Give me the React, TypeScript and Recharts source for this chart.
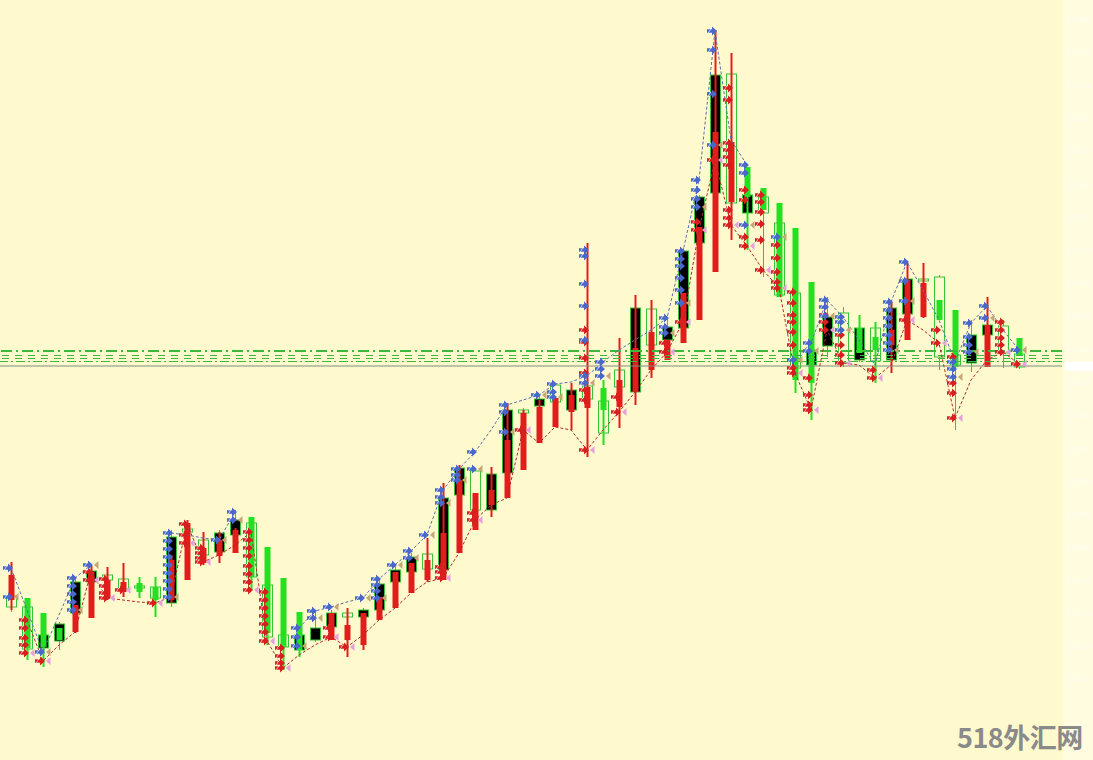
import React from 'react';
import { ComposedChart, Bar, Line, Scatter, XAxis, YAxis, ReferenceLine } from 'recharts';

// main candles (points)
const mainOpen = [
  153, 111, 125, 136, 178, 189, 180, 171, 172, 162,
  223, 228, 205, 227, 240, 183, 123, 113, 125, 132,
  147, 143, 150, 176, 190, 203, 191, 262, 292, 250,
  286, 350, 347, 361, 358, 370, 361, 327, 373, 452,
  415, 433, 509, 563, 685, 557, 565, 547, 465, 392,
  410, 443, 397, 432, 399, 452, 481, 479, 403, 395,
  425, 435, 407, 393,
];
const mainClose = [
  164, 153, 112, 119, 147, 178, 185, 181, 174, 173,
  157, 231, 220, 208, 225, 237, 175, 125, 110, 120,
  133, 147, 143, 150, 178, 188, 206, 190, 265, 289,
  250, 287, 350, 354, 375, 350, 374, 359, 390, 368,
  451, 420, 432, 517, 567, 686, 547, 563, 537, 467,
  395, 414, 447, 400, 432, 400, 446, 481, 483, 405,
  397, 425, 434, 406,
];
const mainHigh = [
  166, 155, 130, 138, 182, 192, 187, 183, 183, 183,
  230, 233, 222, 230, 250, 239, 177, 127, 130, 150,
  150, 149, 152, 180, 194, 207, 208, 272, 295, 291,
  293, 357, 352, 364, 377, 374, 377, 361, 392, 455,
  453, 442, 512, 565, 730, 688, 567, 570, 539, 469,
  415, 463, 453, 445, 438, 458, 497, 482, 485, 407,
  440, 438, 440, 408,
];
const mainLow = [
  148, 108, 108, 110, 145, 176, 178, 169, 163, 143,
  153, 226, 203, 205, 223, 180, 120, 90, 103, 118,
  130, 141, 141, 148, 176, 186, 189, 188, 263, 248,
  243, 285, 345, 352, 356, 348, 359, 325, 371, 366,
  413, 418, 430, 515, 565, 555, 545, 483, 463, 390,
  393, 403, 393, 398, 377, 387, 444, 478, 390, 330,
  388, 423, 392, 391,
];

// overlay bars: r = red, g = green, '' = none
const overColor = [
  'r', 'g', 'g', 'g', 'r', 'r', 'r', 'r', 'g', 'g',
  'r', 'r', 'r', 'r', 'r', 'g', 'g', 'g', 'g', '',
  'r', 'r', 'r', 'r', 'r', 'r', 'r', 'r', 'r', 'r',
  'r', 'r', 'r', 'r', 'r', 'r', 'r', 'g', 'r', 'r',
  'r', 'r', 'r', 'r', 'r', 'r', 'g', 'g', 'g', 'g',
  'g', '', '', 'g', 'g', 'r', 'r', 'r', 'g', 'g',
  '', 'r', '', 'g',
];
const overTop = [
  185, 162, 147, 132, 155, 188, 180, 178, 177, 173,
  200, 237, 212, 220, 230, 243, 213, 182, 148, null,
  147, 135, 147, 163, 188, 197, 200, 227, 280, 267,
  270, 320, 347, 353, 362, 365, 373, 372, 380, 412,
  428, 420, 467, 533, 628, 618, 593, 572, 557, 532,
  478, null, null, 432, 423, 430, 480, 477, 460, 450,
  null, 435, null, 422,
];
const overBottom = [
  160, 112, 113, 120, 128, 142, 162, 168, 168, 160,
  160, 180, 197, 204, 207, 183, 127, 113, 110, null,
  120, 120, 115, 140, 152, 167, 180, 180, 207, 230,
  255, 262, 290, 317, 333, 348, 352, 350, 353, 368,
  390, 400, 417, 440, 488, 558, 563, 550, 463, 380,
  377, null, null, 407, 410, 415, 420, 443, 440, 393,
  null, 393, null, 405,
];
const overHigh = [
  198, 162, 147, 132, 155, 194, 193, 197, 183, 183,
  205, 240, 228, 228, 232, 243, 213, 182, 148, null,
  147, 152, 147, 163, 188, 197, 222, 277, 295, 267,
  293, 357, 350, 360, 362, 377, 517, 380, 422, 465,
  460, 420, 467, 533, 730, 707, 593, 572, 557, 532,
  478, null, null, 445, 438, 458, 497, 497, 460, 450,
  null, 463, null, 422,
];
const overLow = [
  150, 100, 93, 120, 127, 142, 160, 163, 162, 143,
  157, 180, 195, 197, 207, 170, 115, 90, 103, null,
  120, 103, 110, 140, 152, 167, 178, 180, 207, 230,
  243, 262, 290, 317, 333, 330, 303, 315, 332, 355,
  382, 400, 417, 440, 488, 520, 510, 550, 463, 367,
  340, null, null, 407, 377, 387, 420, 442, 440, 393,
  null, 393, null, 405,
];

// signal arrows per bar
const blueMarks: number[][] = [
  [192, 163], [], [108], [], [182, 174, 166, 158, 150], [195], [], [], [], [],
  [227, 219, 211, 203, 195, 187, 179, 171, 163], [], [], [220], [248, 240], [], [], [], [132, 123, 114], [149, 142],
  [153], [], [162], [181, 175, 169, 162], [195], [209, 202], [225], [270, 263, 257], [291, 285, 280], [308, 291],
  [], [355, 348, 328], [], [365], [376, 368, 363], [], [510, 504, 476, 454, 420, 384, 377], [398, 391, 384], [], [],
  [], [442, 433, 427], [509, 501, 494, 482, 470, 457], [580, 570, 561, 553], [729, 710, 666, 615], [], [595, 587, 535], [], [523], [400],
  [417, 409], [460, 453, 444], [443, 438, 430], [], [], [458, 450, 442, 434, 425, 417, 410], [498, 479, 459], [], [], [398, 391, 383],
  [437, 423, 415, 408], [454, 442], [], [410],
];
const redMarks: number[][] = [
  [], [140, 132, 122, 115, 107], [99], [], [], [188, 180], [181, 174, 167, 162], [170], [], [157],
  [], [236, 225, 217], [212, 207, 202, 198], [], [], [228, 220, 212, 204, 194, 186, 178, 170], [168, 160, 152, 144, 136, 128, 119], [112, 104, 97, 92], [], [],
  [132, 123], [113], [], [], [], [], [], [193, 188, 182], [], [247, 240],
  [], [], [330], [], [], [], [430, 418, 402, 387, 370, 360, 310], [], [363, 348], [],
  [], [417, 408], [438], [538, 530], [600], [672, 660, 617, 610, 603, 595, 550, 542, 535], [570, 560, 523, 514], [565, 558, 548, 536, 520, 490], [515, 502, 488, 478, 472], [468, 457, 445, 438, 428, 415, 392, 387],
  [382, 365, 355, 350], [445, 438, 430], [425, 415, 405, 397], [], [390, 382], [], [440], [], [430, 417], [403, 377, 367, 342],
  [], [], [438, 430, 422, 415, 408], [396],
];

// dashed trails joining the arrows
const blueTrail = [
  192, 150, 108, 145, 182, 195, null, null, null, null,
  227, 225, 222, 220, 248, null, null, null, 132, 149,
  153, 158, 162, 181, 195, 209, 225, 270, 291, 308,
  330, 355, 360, 365, 376, 378, 384, 398, 410, 420,
  430, 442, 509, 580, 729, 620, 595, null, null, 400,
  417, 460, 443, 420, 395, 458, 498, 470, 440, 398,
  437, 454, 430, 410,
];
const redTrail = [
  null, 140, 99, 115, 128, 188, 162, 160, 158, 157,
  163, 236, 198, 205, 215, 228, 119, 92, 105, 115,
  123, 113, 125, 140, 152, 167, 178, 182, 207, 240,
  255, 262, 330, 317, 333, 330, 310, 330, 348, 368,
  390, 408, 438, 530, 600, 535, 514, 490, 472, 387,
  350, 430, 397, 395, 382, 395, 440, 430, 417, 342,
  380, 400, 408, 396,
];

const levelLines = [409, 404.5, 401.5, 398.5];
const lastPrice = 394;
const priceTicks = [740, 707, 674, 641, 608, 575, 542, 509, 476, 443, 410, 377, 344, 311, 278, 245, 212, 179, 146, 113, 80];

const BG = '#FFFACD';
const LIME = '#22e022';
const EDGE = '#3ac23a';
const RED = '#e41c1c';

const rows = mainOpen.map((o, i) => {
  const lo = Math.min(mainLow[i], overLow[i] ?? Infinity);
  const hi = Math.max(mainHigh[i], overHigh[i] ?? -Infinity);
  return {
    i,
    o,
    c: mainClose[i],
    h: mainHigh[i],
    l: mainLow[i],
    oc: overColor[i],
    ot: overTop[i],
    ob: overBottom[i],
    oh: overHigh[i],
    ol: overLow[i],
    range: [lo, hi],
    blueTrail: blueTrail[i],
    redTrail: redTrail[i],
  };
});

const flatten = (lists: number[][]) =>
  lists.flatMap((list, i) => list.map((v, k) => ({ i, v, tip: k === list.length - 1 })));
const bluePts = flatten(blueMarks);
const redPts = flatten(redMarks);

function Candle(props: any) {
  const { x, y, width, height, payload } = props;
  if (!payload) return null;
  const [lo, hi] = payload.range;
  const top = Math.min(y, y + height);
  const span = Math.abs(height);
  const py = (v: number) => top + ((hi - v) / (hi - lo)) * span;
  const cx = Math.round(x + width / 2) + 0.5;
  const bTop = py(Math.max(payload.o, payload.c));
  const bBot = py(Math.min(payload.o, payload.c));
  const bear = payload.c < payload.o;
  const col = payload.oc === 'r' ? RED : LIME;
  return (
    <g>
      <line x1={cx} x2={cx} y1={py(payload.h)} y2={py(payload.l)} stroke={EDGE} strokeWidth={1} />
      <rect x={cx - 5} y={bTop} width={10} height={Math.max(bBot - bTop, 1)} fill={bear ? '#000' : BG} stroke={EDGE} strokeWidth={1} />
      {payload.oc && (
        <g>
          <line x1={cx} x2={cx} y1={py(payload.oh)} y2={py(payload.ol)} stroke={col} strokeWidth={2} />
          <rect x={cx - 3} y={py(payload.ot)} width={6} height={Math.max(py(payload.ob) - py(payload.ot), 1)} fill={col} />
        </g>
      )}
    </g>
  );
}

function Arrow(props: any) {
  const { cx, cy, payload, color, tipColor } = props;
  if (cx == null || cy == null) return null;
  const x = cx - 1;
  const y = cy;
  return (
    <g>
      <path
        d={`M${x - 7},${y - 1.8} L${x - 2},${y - 1.8} L${x - 2},${y - 4.5} L${x + 3},${y} L${x - 2},${y + 4.5} L${x - 2},${y + 1.8} L${x - 7},${y + 1.8} Z`}
        fill={color}
      />
      <line x1={x - 6} y1={y + 2.5} x2={x - 3} y2={y - 2.5} stroke="#fff" strokeWidth={0.9} opacity={0.75} />
      {payload?.tip && <path d={`M${x + 8.5},${y - 4} L${x + 4},${y} L${x + 8.5},${y + 4} Z`} fill={tipColor} />}
    </g>
  );
}

function PriceTag(props: any) {
  const vb = props.viewBox;
  if (!vb) return null;
  return <rect x={vb.x + vb.width + 3} y={vb.y - 4} width={28} height={9} fill="#ffffff" />;
}

export default function App() {
  return (
    <div style={{ position: 'absolute', left: 0, top: 0, width: 1093, height: 760, background: BG, overflow: 'hidden' }}>
      <div style={{ position: 'absolute', left: 1063, top: 0, width: 30, height: 760, background: '#FFFCE0' }} />
      <ComposedChart width={1093} height={760} data={rows} margin={{ top: 0, right: 0, bottom: 0, left: 0 }} style={{ position: 'absolute', left: 0, top: 0 }}>
        <XAxis type="number" dataKey="i" domain={[-0.6875, 65.6875]} allowDataOverflow hide />
        <YAxis
          orientation="right"
          width={31}
          domain={[0, 760]}
          allowDataOverflow
          ticks={priceTicks}
          axisLine={false}
          tickLine={false}
          tickSize={0}
          tickMargin={4}
          tick={{ fill: '#fffef2', fontSize: 7, fontFamily: 'DejaVu Sans' }}
          tickFormatter={(v: number) => (1.265 + v / 10000).toFixed(4)}
        />
        <ReferenceLine y={levelLines[0]} stroke="#3cb83c" strokeWidth={2} strokeDasharray="11 4 2 4" />
        <ReferenceLine y={levelLines[1]} stroke="#3cb83c" strokeWidth={1} strokeDasharray="7 6" />
        <ReferenceLine y={levelLines[2]} stroke="#3cb83c" strokeWidth={1} strokeDasharray="7 6" />
        <ReferenceLine y={levelLines[3]} stroke="#3cb83c" strokeWidth={1} strokeDasharray="9 3 2 3" />
        <ReferenceLine y={lastPrice} stroke="#7f8f80" strokeWidth={1} label={{ content: PriceTag }} />
        <Bar dataKey="range" barSize={12} shape={(p: any) => <Candle {...p} />} isAnimationActive={false} />
        <Line dataKey="redTrail" stroke="#b02a2a" strokeWidth={1} strokeDasharray="3 2" dot={false} activeDot={false} connectNulls={false} isAnimationActive={false} />
        <Line dataKey="blueTrail" stroke="#5a6fb0" strokeWidth={1} strokeDasharray="3 2" dot={false} activeDot={false} connectNulls={false} isAnimationActive={false} />
        <Scatter data={redPts} dataKey="v" shape={(p: any) => <Arrow {...p} color="#d81f1f" tipColor="#e6a0dc" />} isAnimationActive={false} />
        <Scatter data={bluePts} dataKey="v" shape={(p: any) => <Arrow {...p} color="#4a68c8" tipColor="#c6a878" />} isAnimationActive={false} />
      </ComposedChart>
      <div
        style={{
          position: 'absolute',
          left: 957,
          top: 719,
          fontSize: 27,
          fontWeight: 700,
          color: '#8a8a8a',
          fontFamily: '"Noto Sans CJK SC", "Noto Sans", sans-serif',
          letterSpacing: -0.5,
          lineHeight: '36px',
        }}
      >
        518外汇网
      </div>
    </div>
  );
}
